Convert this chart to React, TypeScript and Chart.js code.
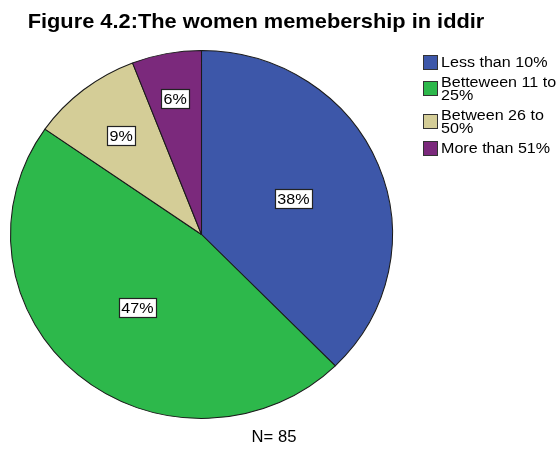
import React, { useEffect, useRef } from "react";
import { Chart, registerables } from "chart.js";

Chart.register(...registerables);

const categories = ["Less than 10%", "Betteween 11 to 25%", "Between 26 to 50%", "More than 51%"];
const legendLines = [["Less than 10%"], ["Betteween 11 to", "25%"], ["Between 26 to", "50%"], ["More than 51%"]];
const counts = [32, 40, 8, 5];
const colors = ["#3d57a9", "#2db84b", "#d4cd97", "#7b297c"];
const titleText = "Figure 4.2:The women memebership in iddir";
const footnote = "N= 85";

const SX = 1.038;
const FONT = "Arial, 'Liberation Sans', sans-serif";

function stretchedText(ctx: CanvasRenderingContext2D, text: string, x: number, y: number, font: string, align: CanvasTextAlign) {
  ctx.save();
  ctx.translate(x, y);
  ctx.scale(SX, 1);
  ctx.font = font;
  ctx.textAlign = align;
  ctx.textBaseline = "middle";
  ctx.fillStyle = "#000";
  ctx.fillText(text, 0, 0);
  ctx.restore();
}

const decorPlugin = {
  id: "decor",
  beforeDatasetsDraw(chart: any) {
    const ctx = chart.ctx;
    const arc = chart.getDatasetMeta(0).data[0];
    ctx.save();
    ctx.translate(arc.x, arc.y);
    ctx.scale(SX, 1);
    ctx.translate(-arc.x, -arc.y);
  },
  afterDatasetsDraw(chart: any) {
    const ctx: CanvasRenderingContext2D = chart.ctx;
    ctx.restore();
    const meta = chart.getDatasetMeta(0);
    const total = counts.reduce((a, b) => a + b, 0);
    meta.data.forEach((el: any, i: number) => {
      const share = counts[i] / total;
      const f = share >= 0.2 ? 0.52 : Math.min(0.8, 0.87 - 2 * share);
      const mid = (el.startAngle + el.endAngle) / 2;
      const r = el.outerRadius * f;
      const x = el.x + SX * Math.cos(mid) * r;
      const y = el.y + Math.sin(mid) * r;
      const label = Math.round(share * 100) + "%";
      const font = "15.5px " + FONT;
      ctx.font = font;
      const w = ctx.measureText(label).width * SX + 5;
      const h = 19;
      ctx.fillStyle = "#fff";
      ctx.fillRect(Math.round(x - w / 2), Math.round(y - h / 2), Math.round(w), h);
      ctx.strokeStyle = "#222";
      ctx.lineWidth = 1.2;
      ctx.strokeRect(Math.round(x - w / 2) + 0.5, Math.round(y - h / 2) + 0.5, Math.round(w), h);
      stretchedText(ctx, label, x, y + 1, font, "center");
    });
  },
  afterDraw(chart: any) {
    const ctx: CanvasRenderingContext2D = chart.ctx;
    stretchedText(ctx, titleText, 256, 22, "bold 21px " + FONT, "center");
    stretchedText(ctx, footnote, 274, 438, "16px " + FONT, "center");
    // legend
    const lineH = 13;
    const gap = 7;
    let y = 55;
    legendLines.forEach((lines, i) => {
      const blockH = lines.length * lineH;
      const cy = y + blockH / 2;
      ctx.fillStyle = colors[i];
      ctx.fillRect(423, Math.round(cy - 7), 14, 14);
      ctx.strokeStyle = "#333";
      ctx.lineWidth = 1;
      ctx.strokeRect(423.5, Math.round(cy - 7) + 0.5, 14, 14);
      lines.forEach((t, j) => {
        stretchedText(ctx, t, 441, y + lineH / 2 + j * lineH + 1, "15.5px " + FONT, "left");
      });
      y += blockH + gap;
    });
  },
};

export default function App() {
  const ref = useRef<HTMLCanvasElement>(null);
  useEffect(() => {
    if (!ref.current) return;
    const chart = new Chart(ref.current, {
      type: "pie",
      data: {
        labels: categories,
        datasets: [
          {
            data: counts,
            backgroundColor: colors,
            borderColor: "#1a1a1a",
            borderWidth: 1,
          },
        ],
      },
      options: {
        responsive: false,
        animation: false,
        devicePixelRatio: 1,
        layout: { padding: { left: 17, right: 174, top: 50, bottom: 30 } },
        plugins: {
          legend: { display: false },
          title: { display: false },
          tooltip: { enabled: false },
        },
      },
      plugins: [decorPlugin],
    });
    return () => chart.destroy();
  }, []);
  return (
    <div style={{ position: "absolute", left: 0, top: 0, width: 560, height: 449, background: "#fff" }}>
      <canvas ref={ref} width={560} height={449} style={{ display: "block" }} />
    </div>
  );
}
